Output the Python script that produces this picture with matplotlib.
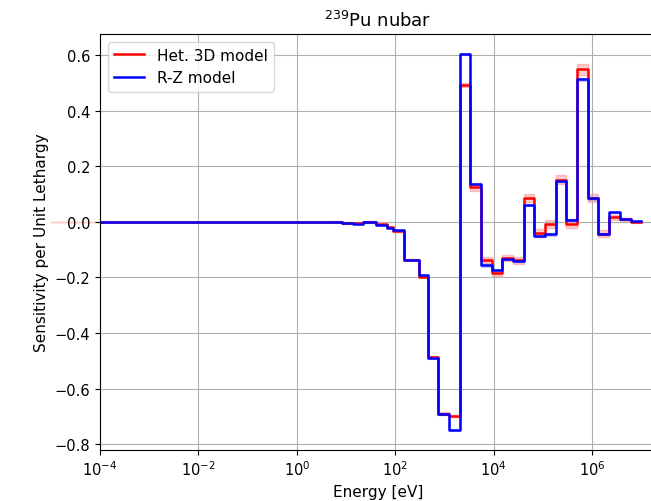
import numpy as np
import matplotlib
matplotlib.use("Agg")
import matplotlib.pyplot as plt

# ECCO 33-group lower boundaries (eV), ascending
group_lower = [1.0e-5, 1.0e-1, 5.4e-1, 4.0, 8.3153, 13.710, 22.603, 40.169,
               67.904, 91.661, 148.63, 304.32, 454.00, 748.52, 1234.1, 2034.7,
               3354.6, 5530.8, 9118.8, 15034.0, 24788.0, 40868.0, 67379.0,
               111090.0, 183160.0, 301970.0, 497870.0, 820850.0, 1.3534e6,
               2.2313e6, 3.6788e6, 6.0653e6, 1.0e7]

het3d = [0.0, 0.0, 0.0, 0.001, -0.003, -0.004, 0.0, -0.009,
         -0.019, -0.033, -0.136, -0.197, -0.485, -0.690, -0.698, 0.493,
         0.124, -0.137, -0.185, -0.130, -0.138, 0.086, -0.040,
         -0.009, 0.151, -0.007, 0.549, 0.085, -0.042,
         0.016, 0.009, -0.001, -0.001]

het3d_err = [0.0, 0.0, 0.0, 0.003, 0.002, 0.002, 0.002, 0.002,
             0.002, 0.003, 0.003, 0.003, 0.004, 0.004, 0.004, 0.006,
             0.012, 0.010, 0.010, 0.012, 0.012, 0.016, 0.014,
             0.014, 0.016, 0.016, 0.020, 0.014, 0.012,
             0.008, 0.006, 0.004, 0.004]

rz = [0.0, 0.0, 0.0, 0.0, -0.005, -0.006, -0.002, -0.012,
      -0.022, -0.031, -0.136, -0.193, -0.490, -0.692, -0.750, 0.604,
      0.136, -0.157, -0.173, -0.133, -0.141, 0.061, -0.050,
      -0.045, 0.148, 0.007, 0.513, 0.085, -0.044,
      0.034, 0.012, 0.002, 0.002]

rz_err = [0.0, 0.0, 0.0, 0.0, 0.001, 0.001, 0.001, 0.001,
          0.001, 0.001, 0.002, 0.002, 0.002, 0.003, 0.003, 0.004,
          0.004, 0.004, 0.004, 0.004, 0.004, 0.005, 0.005,
          0.005, 0.005, 0.005, 0.006, 0.005, 0.004,
          0.003, 0.002, 0.002, 0.002]

E = np.array(group_lower)
h = np.array(het3d); he = np.array(het3d_err)
r = np.array(rz); re_ = np.array(rz_err)

fig = plt.figure(figsize=(6.51, 5.02), dpi=100)
ax = fig.add_axes([100/651, 51/502, 556/651, 416/502])

ax.step(E, h, where='post', color='red', lw=1.8, label='Het. 3D model')
ax.fill_between(E, h - he, h + he, step='post', color='red', alpha=0.2,
                clip_on=False)
ax.step(E, r, where='post', color='blue', lw=1.8, label='R-Z model')
ax.fill_between(E, r - re_, r + re_, step='post', color='blue', alpha=0.15)

ax.set_xscale('log')
ax.set_xlim(1e-4, 2e7)
ax.set_xticks([1e-4, 1e-2, 1e0, 1e2, 1e4, 1e6])
ax.xaxis.set_minor_locator(matplotlib.ticker.NullLocator())
ax.tick_params(labelsize=10.5)
ax.grid(True)
ax.set_xlabel('Energy [eV]', fontsize=11)
ax.set_ylabel('Sensitivity per Unit Lethargy', fontsize=11)
ax.set_title('$^{239}$Pu nubar', fontsize=13)
ax.legend(loc='upper left', fontsize=11)

fig.savefig('out.png', dpi=100)
